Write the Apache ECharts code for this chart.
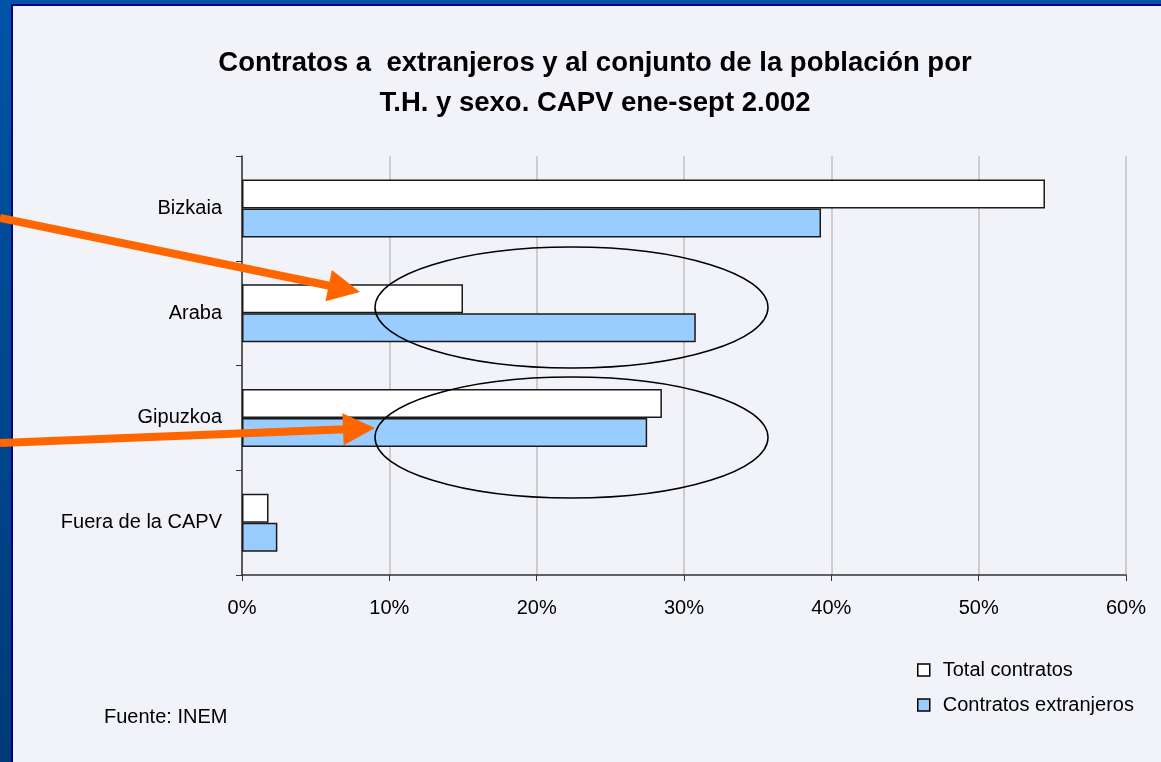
<!DOCTYPE html>
<html>
<head>
<meta charset="utf-8">
<title>Contratos a extranjeros</title>
<script src="https://cdn.jsdelivr.net/npm/echarts@6/dist/echarts.min.js"></script>
<style>
    html, body { margin: 0; padding: 0; }
    #chart { width: 1161px; height: 762px; }
</style>
</head>
<body>
<div id="chart"></div>
<script type="text/javascript">
    var categorias = ['Bizkaia', 'Araba', 'Gipuzkoa', 'Fuera de la CAPV'];
    var totalContratos = [54.5, 15.0, 28.5, 1.8];
    var contratosExtranjeros = [39.3, 30.8, 27.5, 2.4];
    var ticksX = [0, 10, 20, 30, 40, 50, 60];

    var fuente = "'Liberation Sans', Arial, sans-serif";

    // flecha naranja: cola -> punta
    function flecha(cola, punta) {
        var dx = punta[0] - cola[0], dy = punta[1] - cola[1];
        var len = Math.sqrt(dx * dx + dy * dy);
        var ux = dx / len, uy = dy / len;
        var base = [punta[0] - 32 * ux, punta[1] - 32 * uy];
        var px = -uy * 16, py = ux * 16;
        return [
            { type: 'line', z: 100, shape: { x1: cola[0], y1: cola[1], x2: base[0] + 2 * ux, y2: base[1] + 2 * uy },
              style: { stroke: '#ff6600', lineWidth: 8 } },
            { type: 'polygon', z: 100, shape: { points: [punta, [base[0] + px, base[1] + py], [base[0] - px, base[1] - py]] },
              style: { fill: '#ff6600' } }
        ];
    }

    var myChart = echarts.init(document.getElementById('chart'));
    var option = {
        backgroundColor: {
            type: 'linear', x: 0, y: 0, x2: 0, y2: 1,
            colorStops: [{ offset: 0, color: '#0054a6' }, { offset: 1, color: '#003a78' }]
        },
        textStyle: { fontFamily: fuente },
        title: {
            text: 'Contratos a  extranjeros y al conjunto de la población por\nT.H. y sexo. CAPV ene-sept 2.002',
            left: 590, top: 38, textAlign: 'center',
            textStyle: { fontSize: 27.5, fontWeight: 'bold', color: '#000', lineHeight: 40, fontFamily: fuente }
        },
        graphic: [
            { type: 'rect', z: -10, shape: { x: 12, y: 5, width: 1160, height: 770 },
              style: { fill: '#f2f3f8', stroke: '#000080', lineWidth: 2 } },
            { type: 'text', left: 104, top: 707,
              style: { text: 'Fuente: INEM', fontSize: 20, fill: '#000', fontFamily: fuente } },
            { type: 'ellipse', z: 90, shape: { cx: 571.5, cy: 307.5, rx: 196.5, ry: 60.5 },
              style: { fill: null, stroke: '#000', lineWidth: 1.5 } },
            { type: 'ellipse', z: 90, shape: { cx: 571.5, cy: 437.5, rx: 196.5, ry: 60.5 },
              style: { fill: null, stroke: '#000', lineWidth: 1.5 } }
        ].concat(flecha([0, 218], [360, 292]), flecha([0, 443], [375, 428])),
        legend: {
            orient: 'vertical',
            left: 912, top: 655,
            itemWidth: 12, itemHeight: 12, itemGap: 15,
            icon: 'rect',
            textStyle: { fontSize: 20, color: '#000', fontFamily: fuente, padding: [0, 0, 0, 8] },
            data: [
                { name: 'Total contratos', itemStyle: { color: '#fff', borderColor: '#000', borderWidth: 1.5 } },
                { name: 'Contratos extranjeros', itemStyle: { color: '#99ccff', borderColor: '#000', borderWidth: 1.5 } }
            ]
        },
        grid: { left: 242, right: 35, top: 156, bottom: 187, containLabel: false },
        xAxis: {
            type: 'value',
            min: ticksX[0], max: ticksX[ticksX.length - 1], interval: 10,
            axisLine: { show: true, lineStyle: { color: '#333', width: 1.5 } },
            axisTick: { show: true, length: 6, lineStyle: { color: '#333' } },
            axisLabel: { formatter: '{value}%', fontSize: 20, color: '#000', margin: 23 },
            splitLine: { show: true, lineStyle: { color: '#c0c0c0', width: 1.5 } }
        },
        yAxis: {
            type: 'category',
            inverse: true,
            data: categorias,
            axisLine: { show: true, lineStyle: { color: '#333', width: 1.5 } },
            axisTick: { show: true, length: 6, inside: false, lineStyle: { color: '#333' } },
            axisLabel: { fontSize: 20, color: '#000', margin: 20 }
        },
        series: [
            {
                name: 'Total contratos',
                type: 'bar',
                data: totalContratos,
                barWidth: 29,
                barGap: '0%',
                itemStyle: { color: '#ffffff', borderColor: '#1a1a1a', borderWidth: 1.5 }
            },
            {
                name: 'Contratos extranjeros',
                type: 'bar',
                data: contratosExtranjeros,
                barWidth: 29,
                barGap: '0%',
                itemStyle: { color: '#99ccff', borderColor: '#1a1a1a', borderWidth: 1.5 }
            }
        ]
    };

    myChart.setOption(option);
</script>
</body>
</html>
